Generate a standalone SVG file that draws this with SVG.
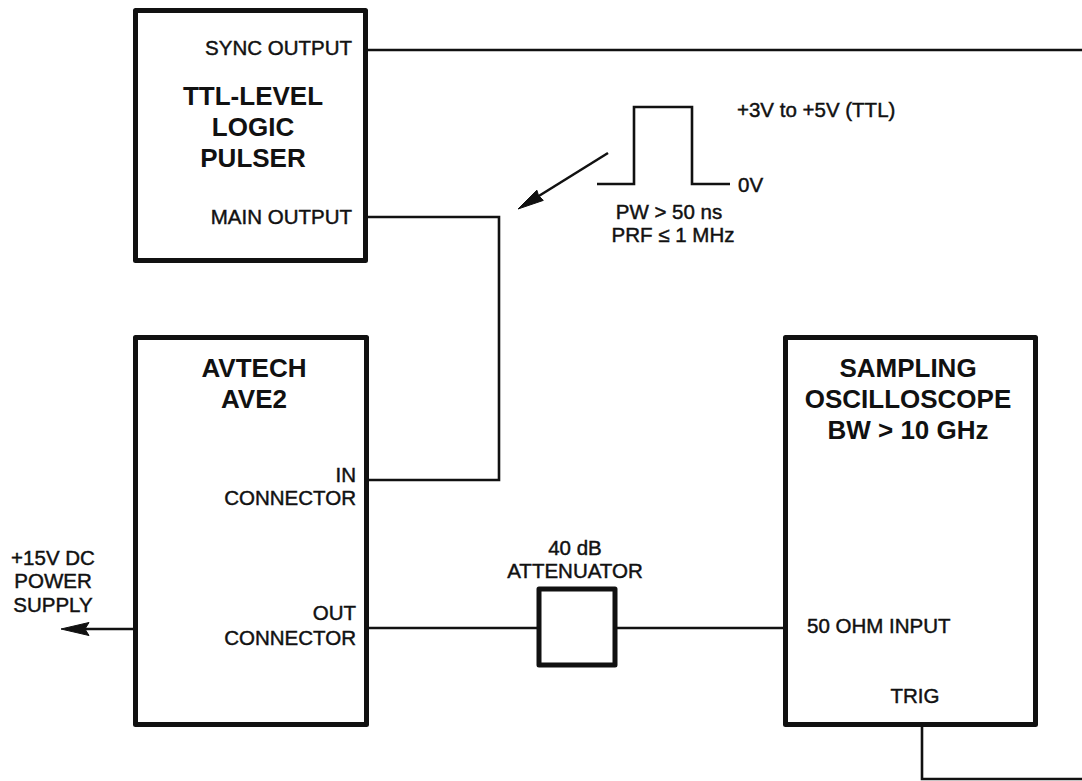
<svg xmlns="http://www.w3.org/2000/svg" width="1082" height="781" viewBox="0 0 1082 781">
<style>
.box{fill:none;stroke:#111;stroke-width:5;stroke-linejoin:round}
.wire{fill:none;stroke:#111;stroke-width:2.6}
.head{fill:#111;stroke:#111;stroke-width:1;stroke-linejoin:round}
.lbl{font-family:"Liberation Sans",Arial,sans-serif;font-size:20.5px;fill:#111;stroke:#111;stroke-width:0.45}
.ttl{font-family:"Liberation Sans",Arial,sans-serif;font-size:26px;font-weight:bold;fill:#111}
.r{text-anchor:end}
.c{text-anchor:middle}
</style>
<rect width="1082" height="781" fill="#fff"/>
<g id="connectors">
<path class="wire" d="M368,50 H1082"/>
<path class="wire" d="M368,217 H499 V480 H369"/>
<path class="wire" d="M369,628 H537"/>
<path class="wire" d="M617,628 H785"/>
<path class="wire" d="M922,727 V779 H1082"/>
<path class="wire" d="M133,629 H84"/>
<polygon class="head" points="61,629 89,622.5 85,629 89,635.5"/>
<path class="wire" d="M608,153 L538,196.5"/>
<polygon class="head" points="518,209 543.3,200.4 538.5,195.5 536.9,190.2"/>
</g>
<g id="pulser">
<rect class="box" x="135.5" y="10.5" width="230" height="250"/>
<text class="lbl r" x="352" y="55">SYNC OUTPUT</text>
<text class="ttl c" x="253" y="105">TTL-LEVEL</text>
<text class="ttl c" x="253" y="136">LOGIC</text>
<text class="ttl c" x="253" y="167">PULSER</text>
<text class="lbl r" x="352" y="224">MAIN OUTPUT</text>
</g>
<g id="waveform">
<path class="wire" d="M597,184 H634 V107 H692 V184 H730" stroke-width="3"/>
<text class="lbl" x="737" y="117">+3V to +5V (TTL)</text>
<text class="lbl" x="738" y="192">0V</text>
<text class="lbl c" x="669" y="219">PW &gt; 50 ns</text>
<text class="lbl c" x="673" y="242">PRF ≤ 1 MHz</text>
</g>
<g id="ave2">
<rect class="box" x="135.5" y="337.5" width="231" height="387"/>
<text class="ttl c" x="254" y="377">AVTECH</text>
<text class="ttl c" x="254" y="408">AVE2</text>
<text class="lbl r" x="356" y="482">IN</text>
<text class="lbl r" x="356" y="505">CONNECTOR</text>
<text class="lbl r" x="356" y="620">OUT</text>
<text class="lbl r" x="356" y="645">CONNECTOR</text>
</g>
<g id="power">
<text class="lbl c" x="53" y="565">+15V DC</text>
<text class="lbl c" x="53" y="588">POWER</text>
<text class="lbl c" x="53" y="612">SUPPLY</text>
</g>
<g id="attenuator">
<rect class="box" x="539" y="589" width="76" height="76" stroke-width="4.5"/>
<text class="lbl c" x="575" y="555">40 dB</text>
<text class="lbl c" x="575" y="578">ATTENUATOR</text>
</g>
<g id="scope">
<rect class="box" x="785.5" y="337.5" width="250" height="387"/>
<text class="ttl c" x="908" y="377">SAMPLING</text>
<text class="ttl c" x="908" y="408">OSCILLOSCOPE</text>
<text class="ttl c" x="908" y="439">BW &gt; 10 GHz</text>
<text class="lbl" x="807" y="633">50 OHM INPUT</text>
<text class="lbl c" x="915" y="703">TRIG</text>
</g>
</svg>
